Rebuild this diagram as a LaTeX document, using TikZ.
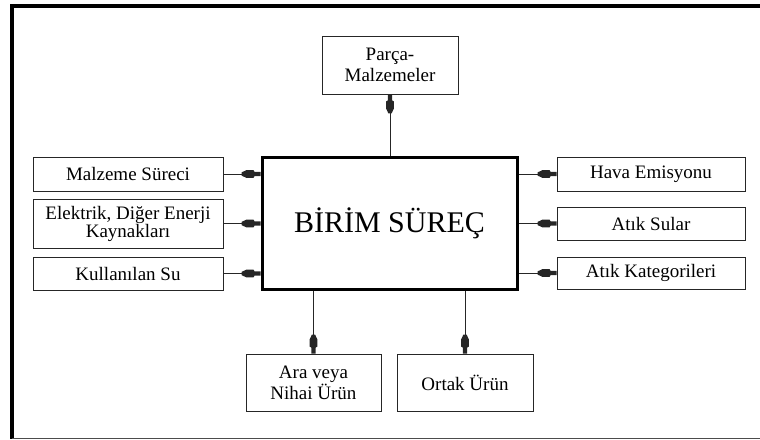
\documentclass[tikz,border=0pt]{standalone}
\usepackage{fontspec}
\setmainfont{Liberation Serif}
\usetikzlibrary{arrows.meta}
% blocky arrow tip: narrow neck at the tip, wide body behind it
\pgfdeclarearrow{
  name = Blk,
  setup code = {
    \pgfarrowssettipend{0pt}
    \pgfarrowssetlineend{-10pt}
    \pgfarrowssetbackend{-19pt}
  },
  drawing code = {
    \pgfpathmoveto{\pgfqpoint{0pt}{2.2pt}}
    \pgfpathlineto{\pgfqpoint{-6pt}{2.2pt}}
    \pgfpathlineto{\pgfqpoint{-7pt}{3.9pt}}
    \pgfpathlineto{\pgfqpoint{-14pt}{3.9pt}}
    \pgfpathlineto{\pgfqpoint{-19pt}{1.6pt}}
    \pgfpathlineto{\pgfqpoint{-19pt}{-1.6pt}}
    \pgfpathlineto{\pgfqpoint{-14pt}{-3.9pt}}
    \pgfpathlineto{\pgfqpoint{-7pt}{-3.9pt}}
    \pgfpathlineto{\pgfqpoint{-6pt}{-2.2pt}}
    \pgfpathlineto{\pgfqpoint{0pt}{-2.2pt}}
    \pgfpathclose
    \pgfusepathqfill
  }
}
\begin{document}
\begin{tikzpicture}[x=1pt,y=-1pt,
  box/.style={draw=black!85, line width=0.9pt, minimum height=#1, inner sep=0pt,
    font=\fontsize{19}{19}\selectfont, align=center},
  box/.default=34,
  flow/.style={draw=black!85, line width=0.9pt, -{Blk}}]
\useasboundingbox (0,0) rectangle (760,439);
% outer frame
\draw[line width=4pt] (10,6) -- (760,6);
\draw[line width=3.5pt] (12,4.5) -- (12,439);
\draw[black!70, line width=1pt] (12,438) -- (760,438);

% central process
\node[draw, line width=3pt, minimum width=255pt, minimum height=132pt, inner sep=0pt,
  font=\fontsize{30}{30}\selectfont] (main) at (389.5,223) {BİRİM SÜREÇ};

% top output
\node[box=58, minimum width=136pt, font=\fontsize{19}{21}\selectfont] (parca) at (390,65) {Parça-\\Malzemeler};

% inputs
\node[box=34, minimum width=190pt] (in1) at (128,174) {Malzeme Süreci};
\node[box=49, minimum width=190pt, font=\fontsize{19}{18}\selectfont] (in2) at (128,223.5) {Elektrik, Diğer Enerji\\Kaynakları};
\node[box=33, minimum width=190pt] (in3) at (128,273.5) {Kullanılan Su};

% outputs
\node[box=34, minimum width=188pt] (out1) at (651,174) {Hava Emisyonu};
\node[box=33, minimum width=188pt] (out2) at (651,223.5) {Atık Sular};
\node[box=32, minimum width=188pt] (out3) at (651,273) {Atık Kategorileri};

% products
\node[box=57, minimum width=135pt, font=\fontsize{19}{21}\selectfont] (prod1) at (313.5,382.5) {Ara veya\\Nihai Ürün};
\node[box=57, minimum width=136pt] (prod2) at (465,382.5) {Ortak Ürün};

% connectors
\draw[flow] (main.north -| parca.south) -- (parca.south);
\draw[flow] (in1.east) -- (in1.east -| main.west);
\draw[flow] (in2.east) -- (in2.east -| main.west);
\draw[flow] (in3.east) -- (in3.east -| main.west);
\draw[flow] (main.east |- out1.west) -- (out1.west);
\draw[flow] (main.east |- out2.west) -- (out2.west);
\draw[flow] (main.east |- out3.west) -- (out3.west);
\draw[flow] (main.south -| prod1.north) -- (prod1.north);
\draw[flow] (main.south -| prod2.north) -- (prod2.north);
\end{tikzpicture}
\end{document}
